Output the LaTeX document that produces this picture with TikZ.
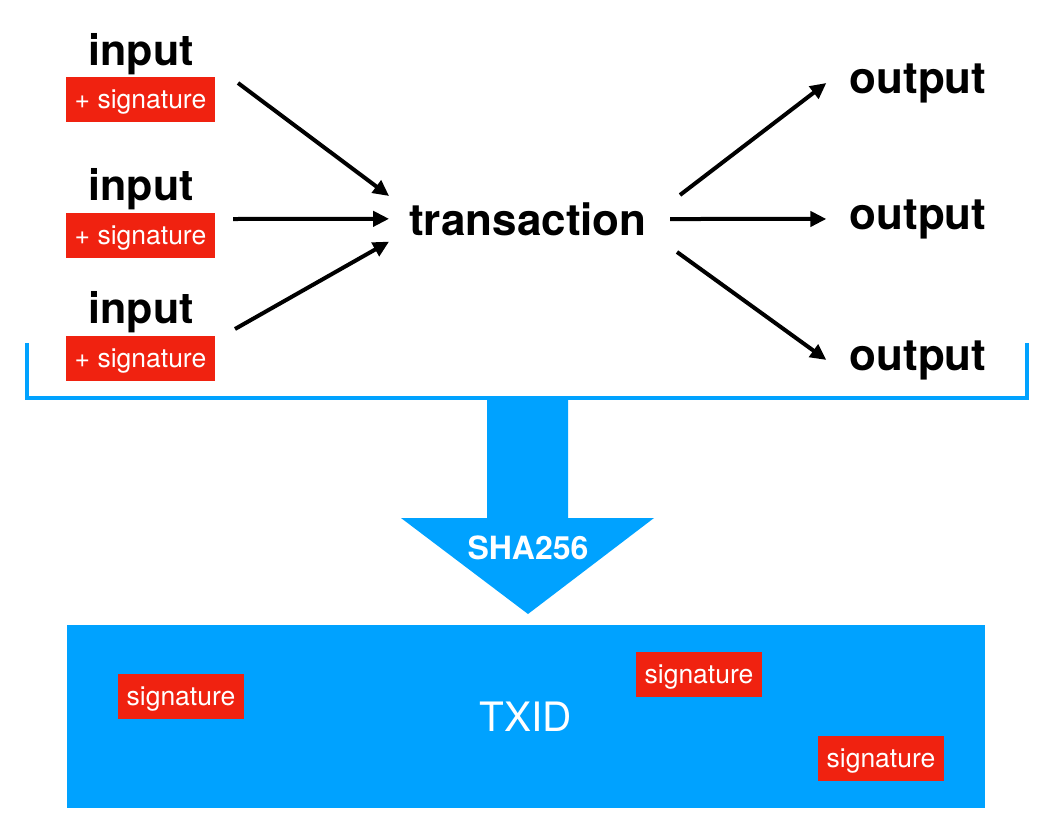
\documentclass[tikz,border=0pt]{standalone}
\usepackage{fontspec}
\setmainfont{TeX Gyre Heros}
\usetikzlibrary{arrows.meta}
\definecolor{sigred}{RGB}{240,34,16}
\definecolor{txblue}{RGB}{0,162,255}
\begin{document}
\begin{tikzpicture}[
		x=1pt, y=-1pt,
		word/.style={font=\fontsize{44}{44}\selectfont\bfseries, inner sep=0pt, anchor=base},
		sigbox/.style={fill=sigred, text=white, inner sep=0pt, minimum height=45pt,
				text height=21pt, text depth=3pt, font=\fontsize{26.5}{26.5}\selectfont},
		flow/.style={-{Triangle[length=16pt,width=15pt]}, line width=4pt}
	]
	\useasboundingbox (0,0) rectangle (1054,828);

	% inputs
	\node[word, font=\fontsize{43}{43}\selectfont\bfseries] (in1) at (141,65) {input};
	\node[sigbox, minimum width=149pt] (insig1) at (140.5,99.5) {+ signature};
	\node[word, font=\fontsize{43}{43}\selectfont\bfseries] (in2) at (141,200) {input};
	\node[sigbox, minimum width=149pt] (insig2) at (140.5,235.5) {+ signature};
	\node[word, font=\fontsize{43}{43}\selectfont\bfseries] (in3) at (141,323) {input};
	\node[sigbox, minimum width=149pt] (insig3) at (140.5,358.5) {+ signature};

	\node[word, inner xsep=20pt, inner ysep=6pt] (tx) at (528,235) {transaction};

	% outputs
	\node[word, inner xsep=23pt] (out1) at (918,93) {output};
	\node[word, inner xsep=23pt] (out2) at (918,229) {output};
	\node[word, inner xsep=23pt] (out3) at (918,370) {output};

	\coordinate (a1) at (238,83);
	\coordinate (a2) at (233,219);
	\coordinate (a3) at (235,329);
	\coordinate (b1) at (680,195);
	\coordinate (b2) at (670,219);
	\coordinate (b3) at (677,252);

	\draw[flow] (a1) -- (tx.north west);
	\draw[flow] (a2) -- (tx.west);
	\draw[flow] (a3) -- (tx.south west);
	\draw[flow] (b1) -- (out1.west);
	\draw[flow] (b2) -- (out2.west);
	\draw[flow] (b3) -- (out3.west);

	% bracket and hash arrow
	\draw[txblue, line width=3.5pt] (27,343) -- (27,398) -- (1027,398) -- (1027,343);
	\fill[txblue] (487,399) -- (568,399) -- (568,518) -- (654,518) -- (528,614)
		-- (401,518) -- (487,518) -- cycle;
	\node[text=white, inner sep=0pt, anchor=base, font=\fontsize{32}{32}\selectfont\bfseries]
		(sha) at (528,559) {SHA256};

	% result
	\node[fill=txblue, text=white, inner sep=0pt, minimum width=918pt, minimum height=183pt,
		font=\fontsize{40.5}{40.5}\selectfont] (txid) at (526,716.5) {TXID};
	\node[sigbox, minimum width=126pt] (sig1) at (181,696.5) {signature};
	\node[sigbox, minimum width=126pt] (sig2) at (699,674.5) {signature};
	\node[sigbox, minimum width=126pt] (sig3) at (881,758.5) {signature};
\end{tikzpicture}
\end{document}
